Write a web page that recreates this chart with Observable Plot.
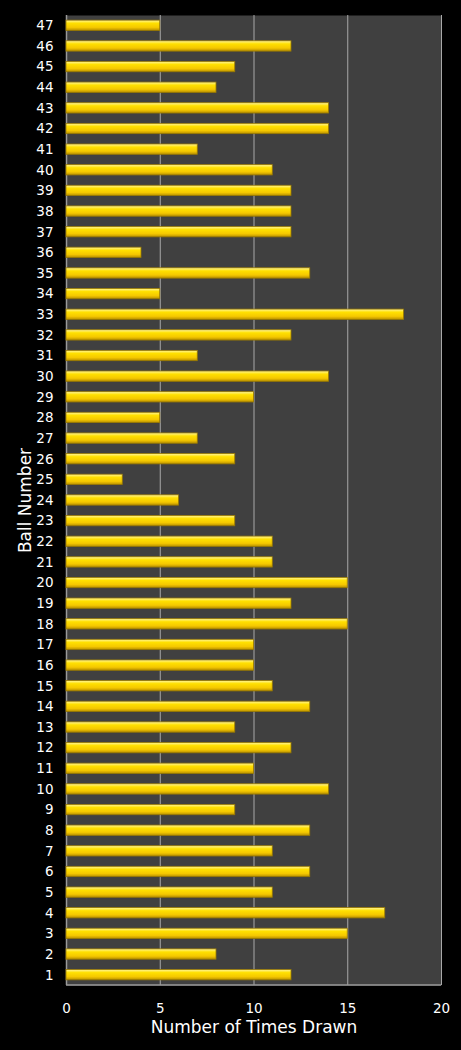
<!DOCTYPE html>
<html>
<head>
<meta charset="utf-8">
<script src="https://cdn.jsdelivr.net/npm/d3@7"></script>
<script src="https://cdn.jsdelivr.net/npm/@observablehq/plot@0.6"></script>
<style>
  body { margin: 0; background: #000; }
  #chart svg { display: block; }
</style>
</head>
<body>
<div id="chart"></div>
<script>
// ball numbers 1..47 and how often each was drawn
const balls = d3.range(1, 48)
const timesDrawn = [
  12, 8, 15, 17, 11, 13, 11, 13, 9, 14,
  10, 12, 9, 13, 11, 10, 10, 15, 12, 15,
  11, 11, 9, 6, 3, 9, 7, 5, 10, 14,
  7, 12, 18, 5, 13, 4, 12, 12, 12, 11,
  7, 14, 14, 8, 9, 12, 5
]
const xTicks = [0, 5, 10, 15, 20]

const data = balls.map((b, i) => ({ball: String(b), count: timesDrawn[i]}))

let chart = Plot.plot({
  width: 461,
  height: 1050,
  marginLeft: 66,
  marginRight: 20,
  marginTop: 15,
  marginBottom: 65,
  style: {background: '#000', color: '#fff', fontFamily: 'DejaVu Sans, Verdana, sans-serif', fontSize: '13px'},
  x: {domain: [0, 20], ticks: xTicks, label: null},
  y: {domain: balls.map(String).reverse(), label: null, paddingInner: 0.5, paddingOuter: 0.25, round: false},
  marks: [
    Plot.frame({fill: '#404040', stroke: null}),
    Plot.gridX(xTicks.slice(1), {stroke: '#a8a8a8', strokeOpacity: 1, strokeWidth: 1}),
    Plot.ruleX([0], {stroke: '#9a9a9a', strokeWidth: 1.5}),
    Plot.barX(data, {x: 'count', y: 'ball', fill: 'url(#gold)', stroke: '#9a7a00', strokeWidth: 0.8}),
    Plot.axisX({ticks: xTicks, tickSize: 0, tickPadding: 18, fontSize: 13.5, label: null}),
    Plot.axisY({tickSize: 0, tickPadding: 13, fontSize: 13.5, label: null}),
    Plot.text(['Number of Times Drawn'], {frameAnchor: 'bottom', dy: 47, fontSize: 17, fill: '#fff'}),
    Plot.text(['Ball Number'], {frameAnchor: 'left', dx: -41, rotate: -90, textAnchor: 'middle', fontSize: 17, fill: '#fff'})
  ]
})

// gradient for the bevelled gold bars, plus the light bottom edge of the plot area
const svg = d3.select(chart)
const grad = svg.insert('defs', ':first-child').append('linearGradient')
  .attr('id', 'gold').attr('x1', 0).attr('y1', 0).attr('x2', 0).attr('y2', 1)
grad.append('stop').attr('offset', '0%').attr('stop-color', '#fff6a0')
grad.append('stop').attr('offset', '30%').attr('stop-color', '#ffe000')
grad.append('stop').attr('offset', '70%').attr('stop-color', '#f5c800')
grad.append('stop').attr('offset', '100%').attr('stop-color', '#b89000')
svg.append('line')
  .attr('x1', 66).attr('x2', 441).attr('y1', 985).attr('y2', 985)
  .attr('stroke', '#9a9a9a').attr('stroke-width', 1.5)

d3.select('#chart').append(() => chart)
</script>
</body>
</html>
